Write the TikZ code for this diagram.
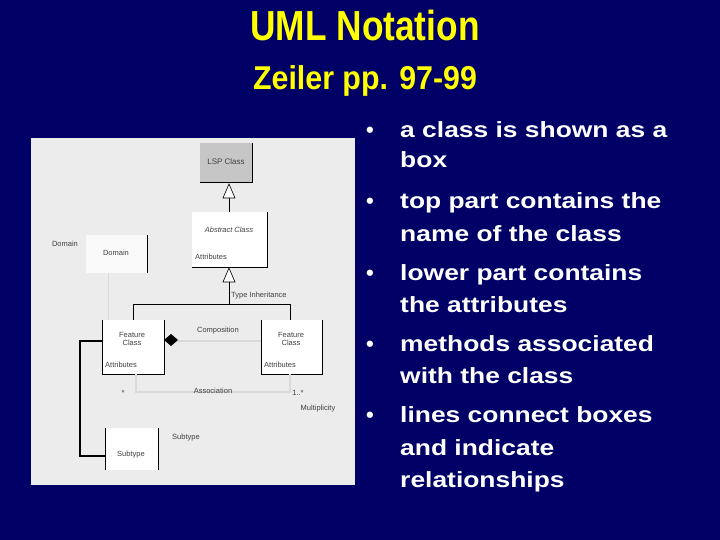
\documentclass[tikz,border=0pt]{standalone}
\usepackage{fontspec}
\setmainfont{Liberation Sans}
\begin{document}
\begin{tikzpicture}[x=1pt,y=-1pt,
  bul/.style={anchor=base west,text=white,font=\fontsize{22}{26}\selectfont\bfseries,inner sep=0pt,xscale=1.2},
  sm/.style={font=\fontsize{7.5}{8.5}\selectfont,text=black!75,inner sep=1pt},
  tri/.style={draw=black,fill=white,line width=0.6pt}]
\definecolor{navy}{RGB}{0,0,102}
\definecolor{ttl}{RGB}{255,255,0}
\fill[navy] (0,0) rectangle (720,540);
\useasboundingbox (0,0) rectangle (720,540);
\fill[gray!15] (31,138) rectangle (355,485);
\node[text=ttl,font=\fontsize{42}{46}\selectfont\bfseries,xscale=0.84] (t1) at (365,25) {UML Notation};
\node[text=ttl,font=\fontsize{33}{36}\selectfont\bfseries,xscale=0.92] (t2) at (365,81) {Zeiler pp. 97-99};
% boxes
\fill[gray!45] (200,143) rectangle (252,182);
\draw[black,line width=0.8pt] (252,143)--(252,182)--(200,182);
\node[sm,font=\fontsize{8}{9}\selectfont] (lsp) at (226,162) {LSP Class};
\fill[white] (192,212) rectangle (267,267);
\draw[black,line width=0.8pt] (267,212)--(267,267)--(192,267);
\node[sm,font=\fontsize{7.5}{8}\selectfont\itshape] (abs) at (229,230) {Abstract Class};
\node[sm,anchor=west] (absa) at (194,257) {Attributes};
\draw[tri] (229,184)--(223,198)--(235,198)--cycle;
\draw[black,line width=0.8pt] (229,198)--(229,212);
\draw[tri] (229,268)--(223,282)--(235,282)--cycle;
\draw[black,line width=0.9pt] (229,282)--(229,304) (133,320)--(133,304)--(290,304)--(290,320);
\node[sm,anchor=west] (ti) at (230,296) {Type Inheritance};
% domain
\fill[gray!5] (86,235) rectangle (147,273);
\draw[black,line width=0.8pt] (147,235)--(147,273);
\node[sm] (dom) at (116,253) {Domain};
\node[sm] (doml) at (65,244) {Domain};
\draw[gray!30,line width=1pt] (108,273)--(108,320);
% feature classes
\fill[white] (102,320) rectangle (164,374);
\draw[black,line width=0.8pt] (102,320)--(102,374)--(164,374)--(164,320);
\node[sm,align=center] (fc1) at (132,339) {Feature\\Class};
\node[sm,anchor=west] (fa1) at (104,365) {Attributes};
\fill[white] (261,320) rectangle (322,374);
\draw[black,line width=0.8pt] (261,320)--(261,374)--(322,374)--(322,320);
\node[sm,align=center] (fc2) at (291,339) {Feature\\Class};
\node[sm,anchor=west] (fa2) at (263,365) {Attributes};
\fill[black] (164,340)--(171,334)--(178,340)--(171,346)--cycle;
\draw[gray!30,line width=1.2pt] (178,341)--(261,341);
\node[sm] (comp) at (218,331) {Composition};
\draw[gray!30,line width=1.2pt] (136,374)--(136,392)--(290,392)--(290,374);
\node[sm] (asc) at (213,391) {Association};
\node[sm] (st) at (123,393) {*};
\node[sm] (m1) at (298,393) {1..*};
\node[sm] (mul) at (318,409) {Multiplicity};
% subtype
\fill[white] (105,428) rectangle (158,470);
\draw[black,line width=0.8pt] (105,428)--(105,470) (158,428)--(158,470);
\node[sm] (sub) at (131,455) {Subtype};
\node[sm] (subl) at (186,438) {Subtype};
\draw[black,line width=1.5pt] (102,341)--(80,341)--(80,456)--(105,456);
% bullets
\foreach \n/\y/\t in {a/138/a class is shown as a, b/168/box,
  c/209/top part contains the, d/241/name of the class,
  e/280/lower part contains, f/312/the attributes,
  g/351/methods associated, h/383/with the class,
  i/422/lines connect boxes, j/455/and indicate, k/487/relationships}
  \node[bul] (l\n) at (400,\y) {\t};
\foreach \n/\y in {1/138,2/209,3/280,4/351,5/422}
  \node[bul,xscale=1/1.2] (d\n) at (366,\y) {\textbullet};
\end{tikzpicture}
\end{document}
